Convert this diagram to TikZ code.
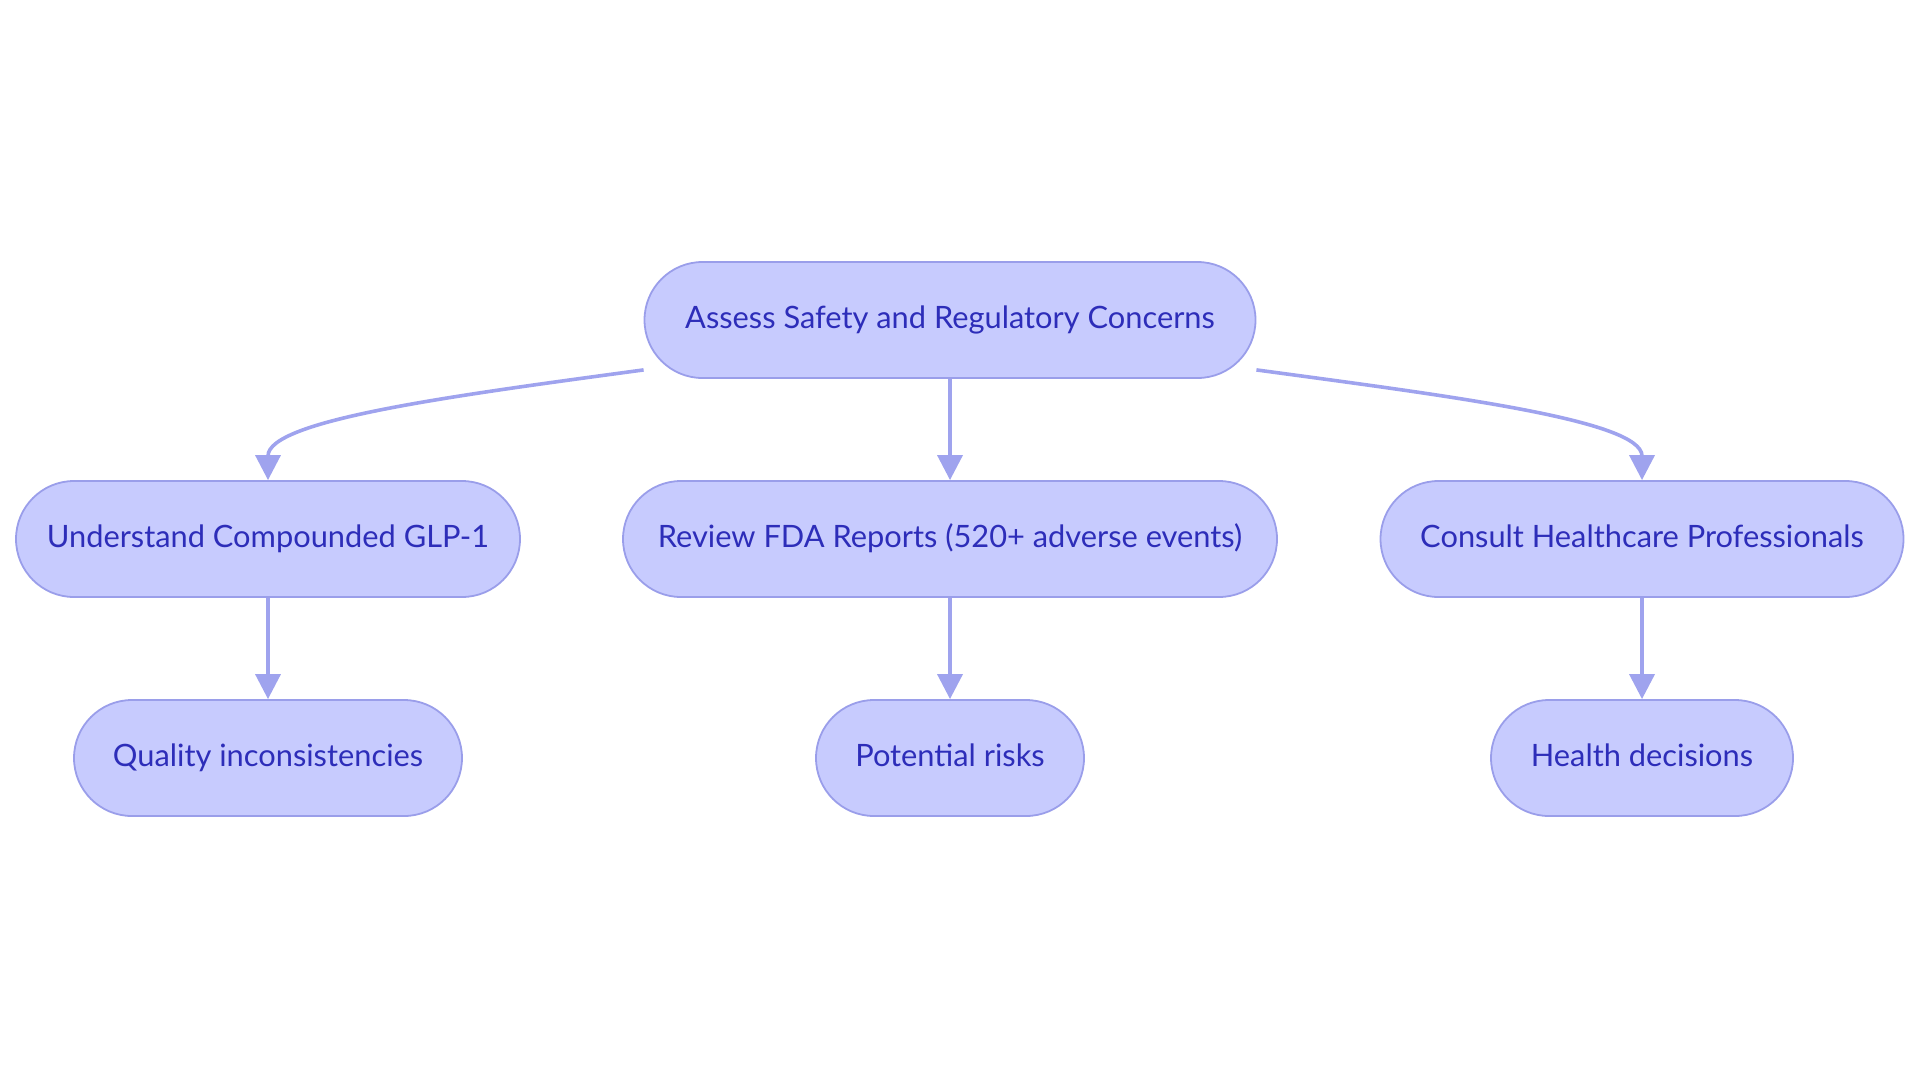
\documentclass[tikz,border=0pt]{standalone}
\usepackage{fontspec}
\setmainfont{Lato}
\usetikzlibrary{arrows.meta}
\definecolor{boxfill}{HTML}{C7CBFE}
\definecolor{boxline}{HTML}{9A9EEA}
\definecolor{boxtext}{HTML}{2D2DB9}
\definecolor{edgeline}{HTML}{9FA3EE}
\tikzset{
  pill/.style={draw=boxline, fill=boxfill, line width=0.9pt,
    rounded corners=29pt, minimum height=58pt, inner sep=0pt,
    text height=11pt, text depth=3pt,
    text=boxtext, font=\fontsize{15.4}{18}\selectfont},
  link/.style={draw=edgeline, line width=1.8pt,
    -{Triangle[length=12.5pt,width=12.5pt]}}
}
\begin{document}
\begin{tikzpicture}
                \useasboundingbox (0,0) rectangle (960pt,-541.5pt);

                \node[pill, minimum width=305.5pt] (assess)
                    at (475pt,-160pt) {Assess Safety and Regulatory Concerns};
                \node[pill, minimum width=252pt] (understand)
                    at (134pt,-269.5pt) {Understand Compounded GLP-1};
                \node[pill, minimum width=327pt] (review)
                    at (475pt,-269.5pt) {Review FDA Reports (520+ adverse events)};
                \node[pill, minimum width=261.5pt] (consult)
                    at (821pt,-269.5pt) {Consult Healthcare Professionals};
                \node[pill, minimum width=194pt] (quality)
                    at (134pt,-379pt) {Quality inconsistencies};
                \node[pill, minimum width=134pt] (risks)
                    at (475pt,-379pt) {Potential risks};
                \node[pill, minimum width=151pt] (health)
                    at (821pt,-379pt) {Health decisions};

                \draw[link] ([yshift=4.5pt]assess.south west)
                    .. controls +(-96pt,-13pt) and +(0,30pt) .. (understand.north);
                \draw[link] (assess) -- (review);
                \draw[link] ([yshift=4.5pt]assess.south east)
                    .. controls +(96pt,-13pt) and +(0,30pt) .. (consult.north);
                \draw[link] (understand) -- (quality);
                \draw[link] (review) -- (risks);
                \draw[link] (consult) -- (health);
            \end{tikzpicture}
\end{document}
